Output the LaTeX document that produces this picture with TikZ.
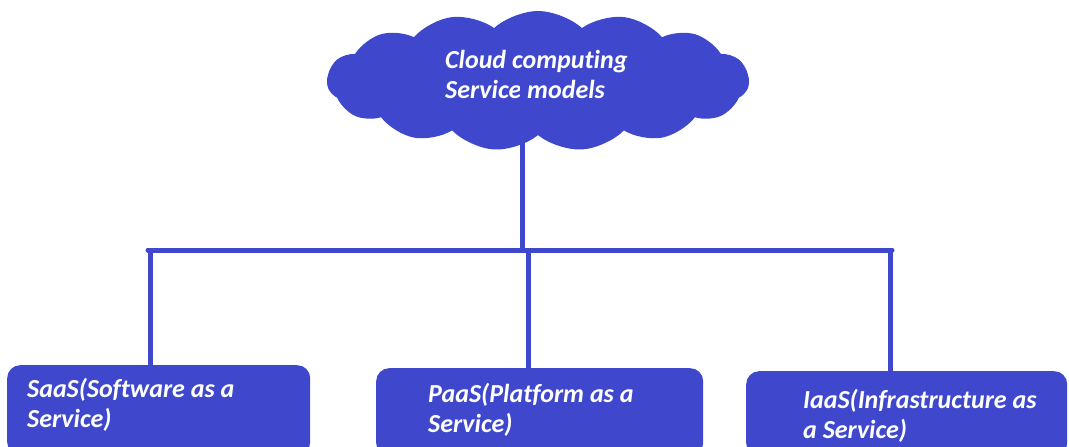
\documentclass[tikz,border=0pt]{standalone}
\usepackage{fontspec}
\setmainfont{Carlito}[Ligatures=NoCommon]
\usetikzlibrary{shapes.symbols}
\definecolor{cblue}{RGB}{63,72,204}
\begin{document}
\begin{tikzpicture}[x=1pt,y=-1pt,
  conn/.style={draw=cblue, line width=5pt},
  boxshape/.style={fill=cblue, rounded corners=13pt, inner sep=0pt, anchor=north west},
  lbl/.style={text=white, font=\fontsize{26}{30}\selectfont\bfseries\itshape, align=left, inner sep=0pt, anchor=base west},
  cloudshape/.style={cloud, cloud puffs=15, cloud puff arc=85, aspect=3.2, fill=cblue, inner sep=0pt, minimum width=422pt, minimum height=140pt}]
\useasboundingbox (0,0) rectangle (1069,447);
\clip (0,0) rectangle (1069,447);
% cloud
\node[cloudshape] (cld) at (538,81) {};
\node[lbl] (cldt) at (445,98) {Cloud computing\\Service models};
% boxes
\node[boxshape, minimum width=303pt, minimum height=90pt] (saas) at (7,365) {};
\node[boxshape, minimum width=327pt, minimum height=88pt] (paas) at (376,368) {};
\node[boxshape, minimum width=321pt, minimum height=85pt] (iaas) at (746,371) {};
\node[lbl] (saast) at (27,427) {SaaS(Software as a\\Service)};
\node[lbl] (paast) at (428,432) {PaaS(Platform as a\\Service)};
\node[lbl] (iaast) at (803,438) {IaaS(Infrastructure as\\a Service)};
% connectors
\coordinate (hub) at (522,250);
\coordinate (hl) at (148,250);
\coordinate (hr) at (892,250);
\coordinate (ds) at (150,250);
\coordinate (dp) at (528,250);
\coordinate (di) at (890,250);
\draw[conn] (hub |- cld.center) -- (hub);
\draw[conn, line cap=round] (hl) -- (hr);
\draw[conn] (ds) -- (ds |- saas.north);
\draw[conn] (dp) -- (dp |- paas.north);
\draw[conn] (di) -- (di |- iaas.north);
\end{tikzpicture}
\end{document}
